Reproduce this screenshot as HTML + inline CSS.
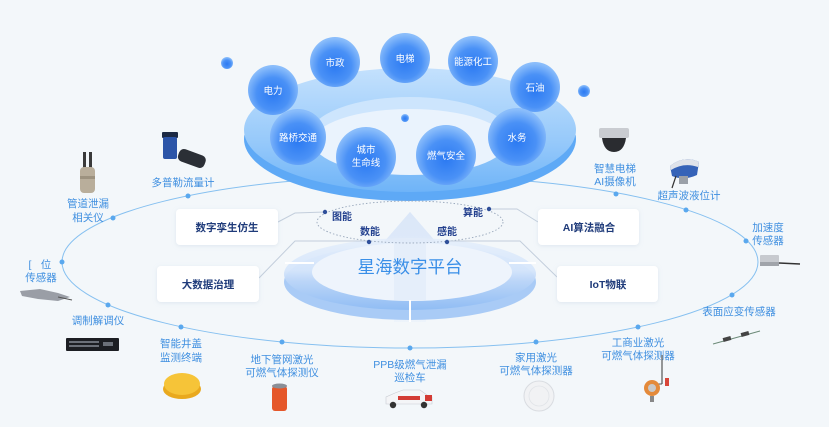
<!DOCTYPE html>
<html><head><meta charset="utf-8"><style>
html,body{margin:0;padding:0;background:#f3f7fa;}
svg{display:block;}
text{font-family:"Liberation Sans","Noto Sans CJK SC",sans-serif;}
.dl{fill:#3f8fe0;font-size:10.5px;text-anchor:middle;}
.bl{fill:#1f3b7a;font-size:10.5px;font-weight:bold;text-anchor:middle;}
.nl{fill:#23408e;font-size:10px;font-weight:bold;text-anchor:middle;}
.sl{fill:#ffffff;font-size:9.5px;text-anchor:middle;}
</style></head><body>
<svg width="829" height="427" viewBox="0 0 829 427" xmlns="http://www.w3.org/2000/svg">
<defs>
<radialGradient id="sph" cx="50%" cy="58%" r="55%">
<stop offset="0" stop-color="#2c7af2"/><stop offset="0.6" stop-color="#4a91f6"/><stop offset="1" stop-color="#8abdfb"/>
</radialGradient>
<linearGradient id="ringTop" x1="0" y1="0" x2="0" y2="1">
<stop offset="0" stop-color="#c4e1fd"/><stop offset="0.6" stop-color="#96c9fa"/><stop offset="1" stop-color="#6fb4f8"/>
</linearGradient>
<linearGradient id="discG" x1="0" y1="0" x2="0" y2="1">
<stop offset="0" stop-color="#e6effb"/><stop offset="0.45" stop-color="#d6e6fb"/><stop offset="0.6" stop-color="#bcd6f8"/><stop offset="1" stop-color="#8fbcf4"/>
</linearGradient>
<linearGradient id="arrowG" x1="0" y1="0" x2="0" y2="1">
<stop offset="0" stop-color="#d3e3f8"/><stop offset="1" stop-color="#e9f1fb" stop-opacity="0.6"/>
</linearGradient>
<filter id="sh" x="-20%" y="-30%" width="140%" height="160%"><feDropShadow dx="0" dy="1" stdDeviation="2" flood-color="#9db4d0" flood-opacity="0.25"/></filter>
</defs>

<!-- main ellipse loop -->
<ellipse cx="410" cy="262" rx="348" ry="86" fill="none" stroke="#86c0f0" stroke-width="1"/>

<!-- top ring -->
<ellipse cx="410" cy="139" rx="166" ry="62" fill="#5ea9f6"/>
<ellipse cx="410" cy="130" rx="166" ry="62" fill="url(#ringTop)"/>
<ellipse cx="410" cy="135" rx="100" ry="38" fill="#cde5fd"/>
<ellipse cx="410" cy="142" rx="97" ry="33" fill="#eaf3fd"/>

<!-- small spheres -->
<circle cx="227" cy="63" r="6" fill="url(#sph)"/>
<circle cx="584" cy="91" r="6" fill="url(#sph)"/>
<circle cx="405" cy="118" r="4" fill="url(#sph)"/>

<!-- big spheres -->
<circle cx="335" cy="62" r="25" fill="url(#sph)"/><text class="sl" x="335" y="66">市政</text>
<circle cx="405" cy="58" r="25" fill="url(#sph)"/><text class="sl" x="405" y="62">电梯</text>
<circle cx="473" cy="61" r="25" fill="url(#sph)"/><text class="sl" x="473" y="65">能源化工</text>
<circle cx="273" cy="90" r="25" fill="url(#sph)"/><text class="sl" x="273" y="94">电力</text>
<circle cx="535" cy="87" r="25" fill="url(#sph)"/><text class="sl" x="535" y="91">石油</text>
<circle cx="298" cy="137" r="28" fill="url(#sph)"/><text class="sl" x="298" y="141">路桥交通</text>
<circle cx="517" cy="137" r="29" fill="url(#sph)"/><text class="sl" x="517" y="141">水务</text>
<circle cx="366" cy="157" r="30" fill="url(#sph)"/><text class="sl" x="366" y="153">城市</text><text class="sl" x="366" y="166">生命线</text>
<circle cx="446" cy="155" r="30" fill="url(#sph)"/><text class="sl" x="446" y="159">燃气安全</text>

<!-- bottom platform disc -->
<polygon points="410,212 436,242 426,242 426,322 394,322 394,242 384,242" fill="url(#arrowG)"/>
<ellipse cx="410" cy="282" rx="126" ry="38" fill="#a9cbf6"/>
<ellipse cx="410" cy="274" rx="126" ry="36" fill="url(#discG)" opacity="0.95"/>
<ellipse cx="412" cy="272" rx="100" ry="29" fill="#eef4fc"/>
<polygon points="410,212 436,242 426,242 426,300 394,300 394,242 384,242" fill="#dfeaf9" opacity="0.6"/>
<line x1="410" y1="300" x2="410" y2="322" stroke="#ffffff" stroke-width="2"/>
<line x1="285" y1="263" x2="314" y2="263" stroke="#ffffff" stroke-width="2"/>
<line x1="509" y1="263" x2="536" y2="263" stroke="#ffffff" stroke-width="2"/>
<text x="410" y="273" style="fill:#3a8fe8;font-size:17.5px;text-anchor:middle;">星海数字平台</text>

<!-- dotted ellipse -->
<ellipse cx="410" cy="222" rx="93" ry="21" fill="none" stroke="#98a7bb" stroke-width="0.9" stroke-dasharray="1.5 2"/>

<!-- connectors -->
<g fill="none" stroke="#c3cedc" stroke-width="1">
<polyline points="278,222 295,213 325,212"/>
<polyline points="259,278 295,241 369,241"/>
<polyline points="447,241 520,241 557,277"/>
<polyline points="489,209 517,209 538,222"/>
</g>
<g fill="#2f4f9a">
<circle cx="325" cy="212" r="2.2"/><circle cx="369" cy="242" r="2.2"/><circle cx="447" cy="242" r="2.2"/><circle cx="489" cy="209" r="2.2"/>
</g>
<text class="nl" x="342" y="220">图能</text>
<text class="nl" x="370" y="235">数能</text>
<text class="nl" x="447" y="235">感能</text>
<text class="nl" x="473" y="216">算能</text>

<!-- boxes -->
<g filter="url(#sh)" fill="#ffffff">
<rect x="176" y="209" width="102" height="36" rx="4"/>
<rect x="157" y="266" width="102" height="36" rx="4"/>
<rect x="538" y="209" width="101" height="36" rx="4"/>
<rect x="557" y="266" width="101" height="36" rx="4"/>
</g>
<text class="bl" x="227" y="231">数字孪生仿生</text>
<text class="bl" x="208" y="288">大数据治理</text>
<text class="bl" x="589" y="231">AI算法融合</text>
<text class="bl" x="608" y="288">IoT物联</text>

<!-- dots on main loop -->
<g fill="#5aa8ee">
<circle cx="188" cy="196" r="2.5"/><circle cx="113" cy="218" r="2.5"/><circle cx="62" cy="262" r="2.5"/>
<circle cx="108" cy="305" r="2.5"/><circle cx="181" cy="327" r="2.5"/><circle cx="282" cy="342" r="2.5"/>
<circle cx="410" cy="348" r="2.5"/><circle cx="536" cy="342" r="2.5"/><circle cx="638" cy="327" r="2.5"/>
<circle cx="732" cy="295" r="2.5"/><circle cx="746" cy="241" r="2.5"/><circle cx="686" cy="210" r="2.5"/>
<circle cx="616" cy="194" r="2.5"/>
</g>

<!-- device labels -->
<text class="dl" x="183" y="186">多普勒流量计</text>
<text class="dl" x="88" y="207">管道泄漏</text><text class="dl" x="88" y="221">相关仪</text>
<text class="dl" x="30" y="268">[</text><text class="dl" x="46" y="268">位</text><text class="dl" x="41" y="281">传感器</text>
<text class="dl" x="98" y="324">调制解调仪</text>
<text class="dl" x="181" y="347">智能井盖</text><text class="dl" x="181" y="361">监测终端</text>
<text class="dl" x="282" y="363">地下管网激光</text><text class="dl" x="282" y="376">可燃气体探测仪</text>
<text class="dl" x="410" y="368">PPB级燃气泄漏</text><text class="dl" x="410" y="381">巡检车</text>
<text class="dl" x="536" y="361">家用激光</text><text class="dl" x="536" y="374">可燃气体探测器</text>
<text class="dl" x="638" y="346">工商业激光</text><text class="dl" x="638" y="359">可燃气体探测器</text>
<text class="dl" x="739" y="315">表面应变传感器</text>
<text class="dl" x="768" y="231">加速度</text><text class="dl" x="768" y="244">传感器</text>
<text class="dl" x="689" y="199">超声波液位计</text>
<text class="dl" x="615" y="172">智慧电梯</text><text class="dl" x="615" y="185">AI摄像机</text>

<!-- devices -->
<!-- 管道泄漏相关仪 -->
<rect x="83" y="152" width="3" height="18" fill="#3a3a3a"/><rect x="89" y="152" width="3" height="18" fill="#3a3a3a"/>
<rect x="80" y="167" width="15" height="26" rx="4" fill="#b9ae9b"/>
<rect x="80" y="176" width="15" height="3" fill="#9d927f"/>
<!-- 多普勒流量计 -->
<rect x="162" y="132" width="16" height="6" rx="1" fill="#1c2a44"/>
<rect x="163" y="137" width="14" height="22" rx="2" fill="#2c55a8"/>
<rect x="178" y="152" width="28" height="13" rx="5" fill="#2b2f36" transform="rotate(20 192 158)"/>
<!-- 位 sensor -->
<polygon points="20,291 40,289 58,293 70,297 58,301 38,299 22,296" fill="#9a9ea6"/>
<line x1="58" y1="297" x2="72" y2="300" stroke="#555" stroke-width="1"/>
<!-- 调制解调仪 -->
<rect x="66" y="338" width="53" height="13" rx="1" fill="#1c1e23"/>
<g fill="#6b7079"><rect x="69" y="341" width="30" height="2"/><rect x="69" y="345" width="30" height="2"/><rect x="103" y="342" width="10" height="4"/></g>
<!-- 智能井盖 -->
<ellipse cx="182" cy="389" rx="19" ry="10" fill="#e9a91e"/>
<ellipse cx="182" cy="384" rx="18" ry="11" fill="#f6c438"/>
<!-- 地下管网 -->
<rect x="272" y="386" width="15" height="25" rx="3" fill="#e5572a"/>
<ellipse cx="279.5" cy="386" rx="7.5" ry="2.5" fill="#8a8f97"/>
<!-- car -->
<path d="M386,404 L386,397 L395,393 L403,390 L420,390 L427,395 L432,397 L432,404 Z" fill="#f4f5f7" stroke="#c8ccd2" stroke-width="0.6"/>
<rect x="398" y="396" width="22" height="4" fill="#d33b34"/>
<rect x="425" y="395" width="7" height="6" fill="#d33b34"/>
<circle cx="393" cy="405" r="3.2" fill="#333"/><circle cx="424" cy="405" r="3.2" fill="#333"/>
<!-- 家用 -->
<circle cx="539" cy="396" r="15" fill="#f1f2f4" stroke="#d9dce1" stroke-width="1"/>
<circle cx="539" cy="396" r="10" fill="none" stroke="#e1e4e8" stroke-width="0.8"/>
<!-- 工商业 -->
<line x1="662" y1="355" x2="662" y2="384" stroke="#555" stroke-width="1.2"/>
<line x1="656" y1="384" x2="662" y2="384" stroke="#555" stroke-width="1"/>
<rect x="665" y="378" width="4" height="8" fill="#d8473a"/>
<circle cx="652" cy="388" r="8" fill="#e48a3a"/>
<circle cx="652" cy="388" r="4" fill="#c9c9c9"/>
<rect x="650" y="396" width="4" height="6" fill="#888"/>
<!-- 表面应变 -->
<line x1="713" y1="344" x2="760" y2="331" stroke="#6c8a78" stroke-width="1"/>
<rect x="723" y="337" width="8" height="4" fill="#444" transform="rotate(-15 727 339)"/>
<rect x="741" y="332" width="8" height="4" fill="#444" transform="rotate(-15 745 334)"/>
<!-- 加速度 -->
<rect x="760" y="255" width="19" height="11" rx="1" fill="#c7cacf"/>
<rect x="760" y="262" width="19" height="4" fill="#a0a4aa"/>
<line x1="779" y1="263" x2="800" y2="264" stroke="#333" stroke-width="1.5"/>
<!-- 超声波液位计 -->
<path d="M670,166 Q684,155 699,162 L697,175 Q684,181 672,176 Z" fill="#3563b8"/>
<path d="M670,166 Q684,155 699,162 L698,167 Q684,162 671,170 Z" fill="#dfe3ea"/>
<rect x="679" y="176" width="9" height="8" fill="#9aa0a8"/>
<line x1="676" y1="176" x2="672" y2="188" stroke="#333" stroke-width="1.2"/>
<!-- AI camera -->
<rect x="599" y="128" width="30" height="10" rx="2" fill="#c9ccd1"/>
<path d="M602,138 L626,138 Q624,152 614,152 Q604,152 602,138 Z" fill="#2a2c30"/>
</svg>
</body></html>
